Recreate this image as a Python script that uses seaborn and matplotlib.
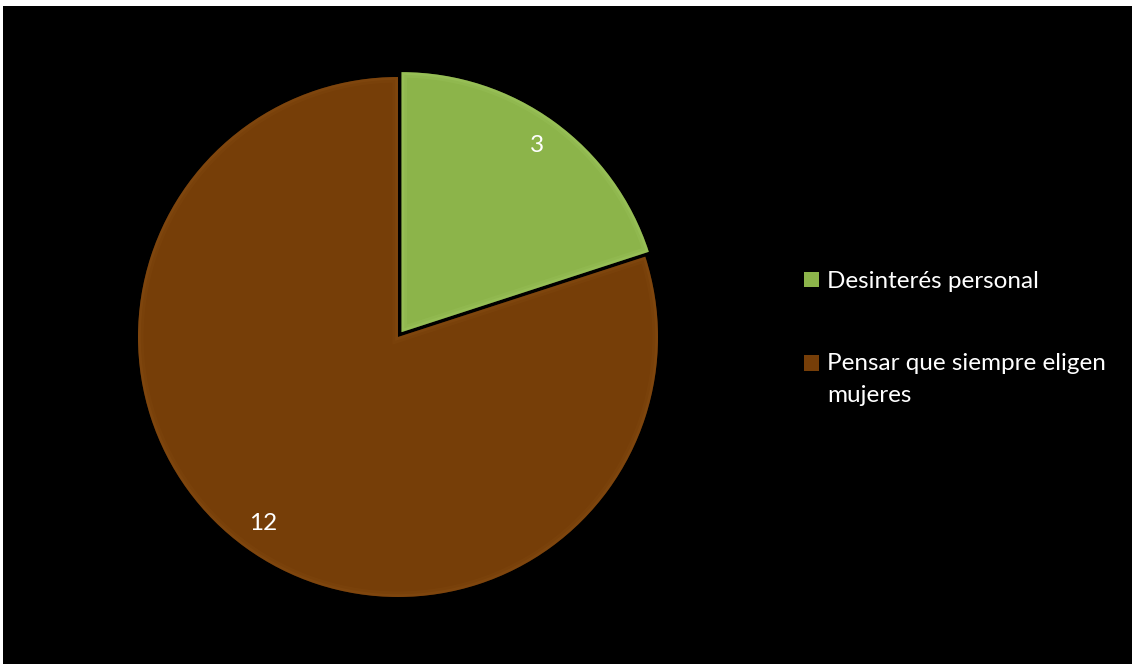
import matplotlib
matplotlib.use("Agg")
import matplotlib.pyplot as plt
from matplotlib.patches import Rectangle, PathPatch
from matplotlib.legend_handler import HandlerPatch
import seaborn as sns

# Reasons for not taking part
categories = ["Desinterés personal", "Pensar que siempre eligen\nmujeres"]
counts = [3, 12]
colors = ["#8cb44a", "#763e08"]
rim_colors = ["#a6cc66", "#8c5016"]

sns.set_theme(style="white")
plt.rcParams["font.family"] = ["Lato", "DejaVu Sans"]

W, H = 1132, 664
FS = 17.5
fig = plt.figure(figsize=(W / 100, H / 100), dpi=100, facecolor="white")

# black chart area inside a thin white frame (top and left)
fig.patches.append(Rectangle((3 / W, -0.01), 1.01, 1.01 - 6 / H,
                             transform=fig.transFigure, facecolor="black",
                             edgecolor="none", zorder=-10))

ax = fig.add_axes([0, 0, 1, 1], zorder=1)
ax.patch.set_alpha(0)

palette = sns.color_palette(colors)
total = sum(counts)
wedges, texts, autotexts = ax.pie(
    counts,
    colors=palette,
    startangle=90,
    counterclock=False,
    explode=[6, 0],
    center=(398, H - 337),
    radius=260,
    autopct=lambda p: f"{round(p * total / 100)}",
    pctdistance=0.885,
    wedgeprops=dict(edgecolor="none", linewidth=0),
    textprops=dict(color="white", fontsize=FS),
)

# soft bevelled rim inside each slice
for w, rc in zip(wedges, rim_colors):
    for lw, a in [(8, 0.18), (4, 0.3)]:
        rim = PathPatch(w.get_path(), transform=w.get_transform(),
                        facecolor="none", edgecolor=rc,
                        linewidth=lw, alpha=a, zorder=w.get_zorder() + 0.1)
        rim.set_clip_path(w)
        ax.add_patch(rim)

# pixel-aligned data space
ax.set_xlim(0, W)
ax.set_ylim(0, H)
ax.set_aspect("equal")
ax.axis("off")


def first_line_square(legend, orig_handle, xdescent, ydescent, width, height, fontsize):
    # marker placed beside the first line of a two-line label
    shift = 16.5 * 72 / 100
    return Rectangle((-xdescent, -ydescent + shift), width, height)


leg = ax.legend(
    wedges, categories,
    loc="upper left",
    bbox_to_anchor=(804, H - 271),
    bbox_transform=ax.transData,
    frameon=False,
    fontsize=FS,
    handlelength=0.62,
    handleheight=0.62,
    handletextpad=0.33,
    labelspacing=2.5,
    borderpad=0,
    borderaxespad=0,
    handler_map={wedges[1]: HandlerPatch(patch_func=first_line_square)},
)
for t in leg.get_texts():
    t.set_color("white")
    t.set_linespacing(1.68)

fig.savefig("out.png", dpi=100, facecolor=fig.get_facecolor())
